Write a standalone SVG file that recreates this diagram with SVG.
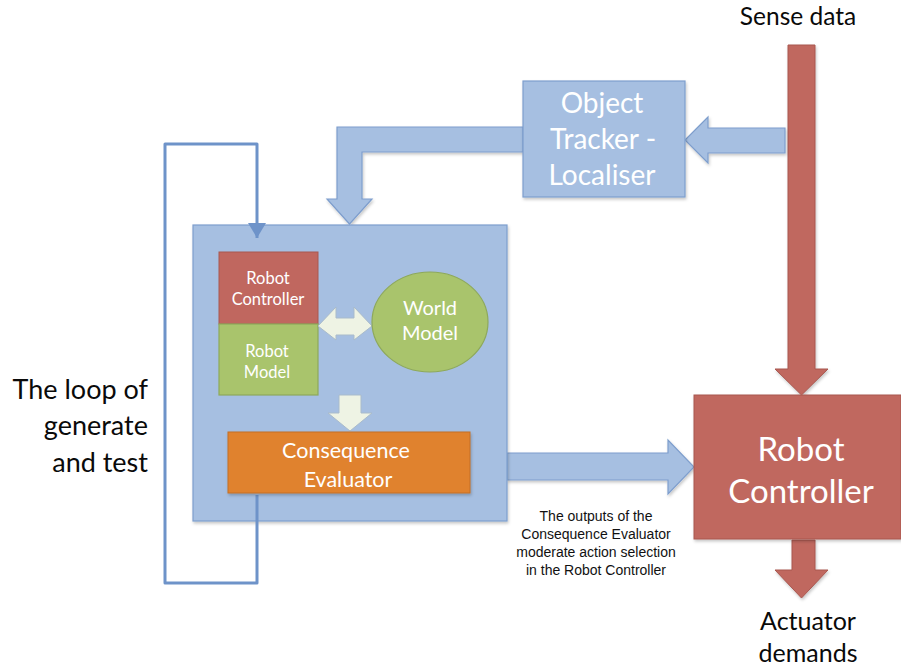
<svg xmlns="http://www.w3.org/2000/svg" width="901" height="666" viewBox="0 0 901 666">
  <defs>
    <filter id="shadow" x="-10%" y="-10%" width="130%" height="130%">
      <feDropShadow dx="1" dy="2" stdDeviation="1.5" flood-color="#000" flood-opacity="0.22"/>
    </filter>
    <marker id="loopHead" markerWidth="6" markerHeight="6" refX="5" refY="3" orient="auto" markerUnits="strokeWidth">
      <path d="M0,0 L5,3 L0,6 Z" fill="#6E93C9"/>
    </marker>
  </defs>
  <style>
    .blue { fill: #A6BFE1; stroke: #7E9ECD; stroke-width: 1.2; }
    .red { fill: #C0675F; stroke: #A85850; stroke-width: 1; }
    .green { fill: #A9C46C; stroke: #8EA95A; stroke-width: 1.2; }
    .orange { fill: #E0822F; stroke: #C46E24; stroke-width: 1; }
    .pale { fill: #EEF3E4; stroke: #A9BBCB; stroke-width: 1; }
    .loop { fill: none; stroke: #6E93C9; stroke-width: 3; stroke-linejoin: round; }
    .lbl { font-family: Lato, "Open Sans", "Liberation Sans", sans-serif; fill: #FFFFFF; text-anchor: middle; }
    .dark { font-family: Lato, "Open Sans", "Liberation Sans", sans-serif; fill: #0A0A0A; }
    .note { font-family: "Liberation Sans", Arial, sans-serif; font-size: 14px; fill: #111111; text-anchor: middle; }
  </style>

  <rect width="901" height="666" fill="#FFFFFF"/>

  <!-- connectors -->
  <g id="connectors">
    <!-- sense data feed into the robot controller -->
    <polygon class="red" filter="url(#shadow)" points="788,45 815,45 815,369 828,369 801.5,395 775,369 788,369"/>
    <!-- branch from sense data into the object tracker -->
    <polygon class="blue" filter="url(#shadow)" points="785,128 708,128 708,117 685,140 708,163 708,153 785,153"/>
    <!-- object tracker into the simulation box -->
    <polygon class="blue" filter="url(#shadow)" points="523,127 337,127 337,199 327,199 349.5,224 372,199 362,199 362,152 523,152"/>
    <!-- simulation outputs into the robot controller -->
    <polygon class="blue" filter="url(#shadow)" points="507,453 668,453 668,440 694,467 668,494 668,480 507,480"/>
    <!-- actuator output -->
    <polygon class="red" filter="url(#shadow)" points="792,540 815,540 815,570 828,570 801.5,598 775,570 792,570"/>
  </g>

  <!-- object tracker -->
  <g id="object-tracker">
    <rect class="blue" filter="url(#shadow)" x="523" y="81" width="162" height="116"/>
    <text class="lbl" font-size="28" x="602" y="113">Object</text>
    <text class="lbl" font-size="28" x="603" y="149">Tracker -</text>
    <text class="lbl" font-size="28" x="602" y="185">Localiser</text>
  </g>

  <!-- simulation container -->
  <g id="simulation-box">
    <rect class="blue" filter="url(#shadow)" x="193" y="225" width="314" height="296"/>
  </g>

  <!-- generate-and-test loop -->
  <g id="loop">
    <polyline class="loop" points="257,495 257,583 165,583 165,144 257,144 257,238" marker-end="url(#loopHead)"/>
  </g>

  <g id="robot-controller-inner">
    <rect class="red" x="219" y="252" width="99" height="72"/>
    <text class="lbl" font-size="16.5" x="268" y="284">Robot</text>
    <text class="lbl" font-size="16.5" x="268" y="305">Controller</text>
  </g>

  <g id="robot-model">
    <rect class="green" x="219" y="324" width="99" height="71"/>
    <text class="lbl" font-size="16.5" x="267" y="357">Robot</text>
    <text class="lbl" font-size="16.5" x="267" y="378">Model</text>
  </g>

  <g id="model-link">
    <polygon class="pale" points="318,326 336,307 336,318 354,318 354,307 372,326 354,340 354,335 336,335 336,340"/>
  </g>

  <g id="world-model">
    <ellipse class="green" cx="430" cy="322" rx="58" ry="50"/>
    <text class="lbl" font-size="20" x="430" y="315">World</text>
    <text class="lbl" font-size="20" x="430" y="340">Model</text>
  </g>

  <g id="evaluate-link">
    <polygon class="pale" points="339,395 361,395 361,413 372,413 350,431 328,413 339,413"/>
  </g>

  <g id="consequence-evaluator">
    <rect class="orange" filter="url(#shadow)" x="228" y="432" width="242" height="61"/>
    <text class="lbl" font-size="21.5" x="346" y="458">Consequence</text>
    <text class="lbl" font-size="21.5" x="348" y="487">Evaluator</text>
  </g>

  <g id="robot-controller">
    <rect class="red" filter="url(#shadow)" x="694" y="395" width="207" height="144"/>
    <text class="lbl" font-size="33" x="801" y="461">Robot</text>
    <text class="lbl" font-size="33" x="801" y="503">Controller</text>
  </g>

  <!-- free labels -->
  <g id="labels">
    <text class="dark" font-size="24.5" x="798" y="25" text-anchor="middle">Sense data</text>
    <text class="dark" font-size="25" x="808" y="630" text-anchor="middle">Actuator</text>
    <text class="dark" font-size="25" x="808" y="662" text-anchor="middle">demands</text>
    <text class="dark" font-size="27" x="148" y="399" text-anchor="end">The loop of</text>
    <text class="dark" font-size="27" x="148" y="435" text-anchor="end">generate</text>
    <text class="dark" font-size="27" x="148" y="472" text-anchor="end">and test</text>
    <text class="note" x="596" y="521">The outputs of the</text>
    <text class="note" x="596" y="539">Consequence Evaluator</text>
    <text class="note" x="596" y="557">moderate action selection</text>
    <text class="note" x="596" y="575">in the Robot Controller</text>
  </g>
</svg>
